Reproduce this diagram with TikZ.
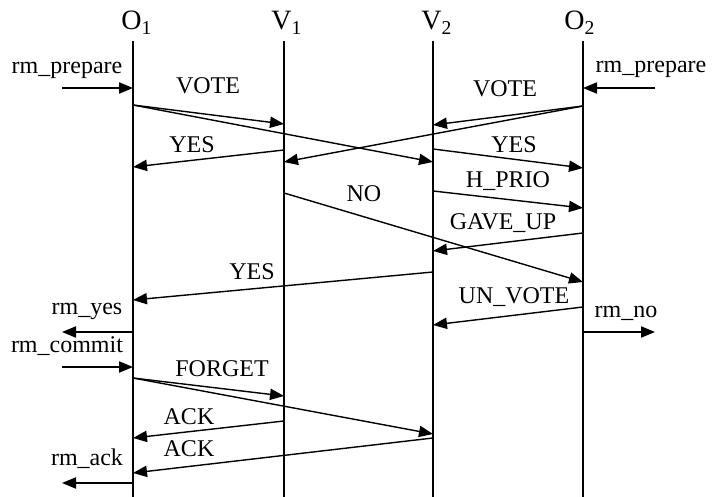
\documentclass[tikz,border=0pt]{standalone}
\usepackage{fontspec}
\setmainfont{Liberation Serif}
\usetikzlibrary{arrows.meta}

\begin{document}
\begin{tikzpicture}[x=0.5pt,y=-0.5pt,
		msg/.style={-{Triangle[length=7pt,width=5.6pt]},line width=0.7pt},
		life/.style={line width=0.7pt},
		lbl/.style={anchor=base,inner sep=0pt,font=\fontsize{12}{14}\selectfont},
		hdr/.style={anchor=base,inner sep=0pt,font=\fontsize{14}{16}\selectfont}]
			\useasboundingbox (0,0) rectangle (713,497);
			% lifelines
			\node[hdr] (o1) at (137,30) {O\textsubscript{1}};
			\node[hdr] (v1) at (287,30) {V\textsubscript{1}};
			\node[hdr] (v2) at (437,30) {V\textsubscript{2}};
			\node[hdr] (o2) at (580,30) {O\textsubscript{2}};
			\coordinate (o1top) at (133,41);
			\coordinate (o1bot) at (133,497);
			\coordinate (v1top) at (284,41);
			\coordinate (v1bot) at (284,497);
			\coordinate (v2top) at (433,41);
			\coordinate (v2bot) at (433,497);
			\coordinate (o2top) at (583,41);
			\coordinate (o2bot) at (583,497);
			\draw [life] (o1top) to (o1bot);
			\draw [life] (v1top) to (v1bot);
			\draw [life] (v2top) to (v2bot);
			\draw [life] (o2top) to (o2bot);

			% message end points
			\coordinate (prepL) at (62,88);
			\coordinate (prepL1) at (133,88);
			\coordinate (prepR) at (655,88);
			\coordinate (prepR1) at (583,88);
			\coordinate (vote1) at (133,105);
			\coordinate (vote1a) at (284,124);
			\coordinate (vote1b) at (433,162);
			\coordinate (vote2) at (583,106);
			\coordinate (vote2a) at (433,125);
			\coordinate (vote2b) at (284,162);
			\coordinate (yes1) at (284,150);
			\coordinate (yes1a) at (133,167);
			\coordinate (yes2) at (433,149);
			\coordinate (yes2a) at (583,168);
			\coordinate (hprio) at (433,191);
			\coordinate (hprioa) at (583,208);
			\coordinate (no) at (284,193);
			\coordinate (noa) at (583,282);
			\coordinate (gave) at (583,233);
			\coordinate (gavea) at (433,251);
			\coordinate (yes3) at (433,272);
			\coordinate (yes3a) at (133,300);
			\coordinate (rmyes) at (133,332);
			\coordinate (rmyesa) at (62,332);
			\coordinate (unvote) at (583,307);
			\coordinate (unvotea) at (433,325);
			\coordinate (rmno) at (583,332);
			\coordinate (rmnoa) at (655,332);
			\coordinate (commit) at (62,367);
			\coordinate (commita) at (133,367);
			\coordinate (forget) at (133,378);
			\coordinate (forgeta) at (284,396);
			\coordinate (forgetb) at (433,434);
			\coordinate (ack1) at (284,421);
			\coordinate (ack1a) at (133,438);
			\coordinate (ack2) at (433,438);
			\coordinate (ack2a) at (133,473);
			\coordinate (rmack) at (133,483);
			\coordinate (rmacka) at (62,483);

			% labels
			\node[lbl] (lprepL) at (67,74) {rm\_prepare};
			\node[lbl] (lprepR) at (651,73) {rm\_prepare};
			\node[lbl] (lvote1) at (208,94) {VOTE};
			\node[lbl] (lvote2) at (505,97) {VOTE};
			\node[lbl] (lyes1) at (192,153) {YES};
			\node[lbl] (lyes2) at (514,153) {YES};
			\node[lbl] (lhprio) at (508,188) {H\_PRIO};
			\node[lbl] (lno) at (364,202) {NO};
			\node[lbl] (lgave) at (503,230) {GAVE\_UP};
			\node[lbl] (lyes3) at (252,280) {YES};
			\node[lbl] (lunvote) at (514,304) {UN\_VOTE};
			\node[lbl] (lrmno) at (626,318) {rm\_no};
			\node[lbl] (lrmyes) at (87,315) {rm\_yes};
			\node[lbl] (lcommit) at (67,353) {rm\_commit};
			\node[lbl] (lforget) at (222,377) {FORGET};
			\node[lbl] (lack1) at (189,425) {ACK};
			\node[lbl] (lack2) at (189,457) {ACK};
			\node[lbl] (lrmack) at (87,466) {rm\_ack};

			% messages
			\draw [msg] (prepL) to (prepL1);
			\draw [msg] (prepR) to (prepR1);
			\draw [msg] (vote1) to (vote1a);
			\draw [msg] (vote1) to (vote1b);
			\draw [msg] (vote2) to (vote2a);
			\draw [msg] (vote2) to (vote2b);
			\draw [msg] (yes1) to (yes1a);
			\draw [msg] (yes2) to (yes2a);
			\draw [msg] (hprio) to (hprioa);
			\draw [msg] (no) to (noa);
			\draw [msg] (gave) to (gavea);
			\draw [msg] (yes3) to (yes3a);
			\draw [msg] (rmyes) to (rmyesa);
			\draw [msg] (unvote) to (unvotea);
			\draw [msg] (rmno) to (rmnoa);
			\draw [msg] (commit) to (commita);
			\draw [msg] (forget) to (forgeta);
			\draw [msg] (forget) to (forgetb);
			\draw [msg] (ack1) to (ack1a);
			\draw [msg] (ack2) to (ack2a);
			\draw [msg] (rmack) to (rmacka);
		\end{tikzpicture}
\end{document}
